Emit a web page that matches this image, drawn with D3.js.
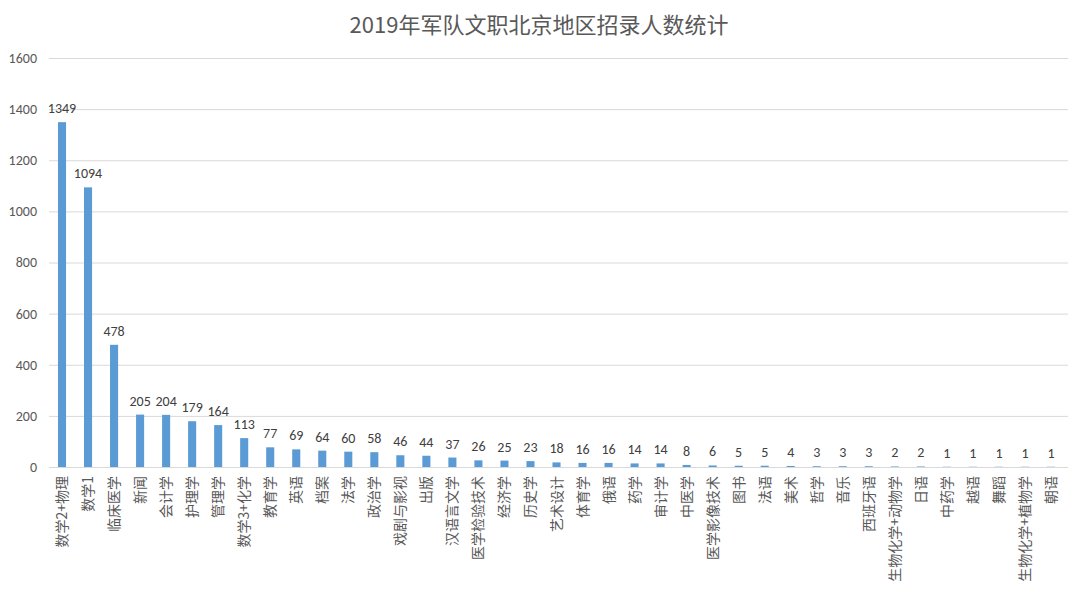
<!DOCTYPE html>
<html><head><meta charset="utf-8">
<script src="https://cdn.jsdelivr.net/npm/d3@7"></script>
<style>body{margin:0;background:#fff;}svg{display:block;font-family:"Noto Sans CJK SC","Microsoft YaHei",sans-serif;}</style>
</head><body>
<svg id="c" width="1080" height="594"></svg>
<script>
const categories = ["数学2+物理","数学1","临床医学","新闻","会计学","护理学","管理学","数学3+化学","教育学","英语","档案","法学","政治学","戏剧与影视","出版","汉语言文学","医学检验技术","经济学","历史学","艺术设计","体育学","俄语","药学","审计学","中医学","医学影像技术","图书","法语","美术","哲学","音乐","西班牙语","生物化学+动物学","日语","中药学","越语","舞蹈","生物化学+植物学","朝语"];
const values = [1349,1094,478,205,204,179,164,113,77,69,64,60,58,46,44,37,26,25,23,18,16,16,14,14,8,6,5,5,4,3,3,3,2,2,1,1,1,1,1];
const yTicks = [0,200,400,600,800,1000,1200,1400,1600];
const title = "2019年军队文职北京地区招录人数统计";

const svg = d3.select("#c");
const mLeft = 49, mRight = 1064, mTop = 58, mBottom = 467;
const x = d3.scaleBand().domain(categories).range([mLeft, mRight]).paddingInner(0.69).paddingOuter(0.345);
const y = d3.scaleLinear().domain([0,1600]).range([mBottom, mTop]);

svg.append("text").attr("x", 539).attr("y", 33).attr("text-anchor","middle")
  .attr("font-size", 22).attr("fill","#595959").text(title);

const ya = svg.append("g").attr("transform",`translate(${mLeft},0)`)
  .call(d3.axisLeft(y).tickValues(yTicks).tickFormat(d3.format("d")).tickSize(-(mRight+4-mLeft)).tickPadding(12));
ya.select(".domain").remove();
ya.selectAll(".tick line").attr("stroke","#d9d9d9");
ya.selectAll(".tick text").attr("fill","#595959").attr("font-size",14).attr("font-family","Carlito,Calibri,'Liberation Sans',sans-serif");

svg.append("g").selectAll("rect").data(values).join("rect")
  .attr("x",(d,i)=>x(categories[i])).attr("width",x.bandwidth())
  .attr("y",d=>y(d)).attr("height",d=>y(0)-y(d)).attr("fill","#5b9bd5");

svg.append("g").selectAll("text").data(values).join("text")
  .attr("x",(d,i)=>x(categories[i])+x.bandwidth()/2).attr("y",d=>y(d)-9)
  .attr("text-anchor","middle").attr("font-size",14).attr("fill","#404040")
  .attr("font-family","Carlito,Calibri,'Liberation Sans',sans-serif").text(d=>d);

const xa = svg.append("g").attr("transform",`translate(0,${mBottom})`)
  .call(d3.axisBottom(x).tickSize(0).tickPadding(0));
xa.select(".domain").attr("stroke","#d9d9d9");
xa.selectAll(".tick text").attr("transform","translate(5,9) rotate(-90)")
  .attr("text-anchor","end").attr("dy","0").attr("font-size",14).attr("fill","#595959")
  .attr("font-family","'Noto Sans CJK SC',sans-serif");
</script>
</body></html>
